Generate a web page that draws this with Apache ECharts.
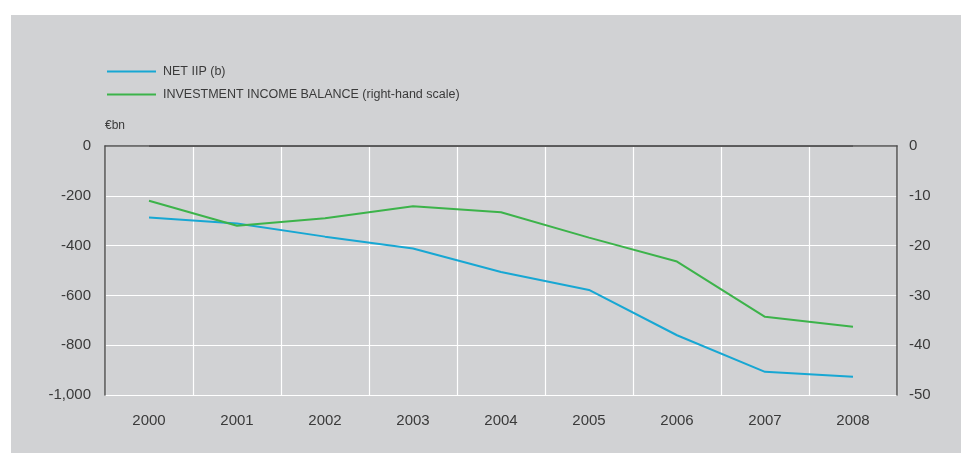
<!DOCTYPE html>
<html>
<head>
<meta charset="utf-8">
<script src="https://cdn.jsdelivr.net/npm/echarts@6/dist/echarts.min.js"></script>
<style>
html,body{margin:0;padding:0;background:#fff;}
#wrap{position:relative;width:961px;height:453px;background:#fff;}
#bg{position:absolute;left:11px;top:15px;right:0;bottom:0;background:#d1d2d4;}
#chart{position:absolute;left:0;top:0;width:961px;height:453px;}
</style>
</head>
<body>
<div id="wrap"><div id="bg"></div><div id="chart"></div></div>
<script>
const years = ['2000','2001','2002','2003','2004','2005','2006','2007','2008'];
const netIIP = [-287, -311, -364, -412, -506, -578, -760, -907, -927];
const investmentIncome = [-11.0, -16.0, -14.5, -12.1, -13.3, -18.4, -23.2, -34.3, -36.3];
const zeroLine = [0, 0, 0, 0, 0, 0, 0, 0, 0];
const seriesNames = ['NET IIP (b)', 'INVESTMENT INCOME BALANCE (right-hand scale)'];
const unitLabel = '€bn';

const FONT = '"Liberation Sans", Arial, Helvetica, sans-serif';
const chart = echarts.init(document.getElementById('chart'), null, {renderer: 'canvas'});
const axisLineStyle = {color: '#505050', width: 1.5};
chart.setOption({
  backgroundColor: 'transparent',
  animation: false,
  textStyle: {fontFamily: FONT},
  grid: {left: 105, right: 64, top: 146, bottom: 58, containLabel: false},
  legend: {
    orient: 'vertical',
    left: 102,
    top: 60,
    itemWidth: 49,
    itemHeight: 2,
    itemGap: 10,
    icon: 'rect',
    data: seriesNames,
    textStyle: {fontSize: 12.5, color: '#3a3a3a', fontFamily: FONT, padding: [0, 0, 0, 2]}
  },
  graphic: [{
    type: 'text', left: 105, top: 120,
    style: {text: unitLabel, fontSize: 12, fill: '#3a3a3a', fontFamily: FONT}
  }],
  xAxis: {
    type: 'category',
    data: years,
    boundaryGap: true,
    axisLine: {show: true, lineStyle: axisLineStyle},
    axisTick: {show: false},
    axisLabel: {fontSize: 15, color: '#3a3a3a', margin: 18, fontFamily: FONT},
    splitLine: {show: true, lineStyle: {color: '#ffffff', width: 1.2}}
  },
  yAxis: [{
    type: 'value',
    min: -1000, max: 0, interval: 200,
    axisLine: {show: true, lineStyle: axisLineStyle},
    axisTick: {show: false},
    axisLabel: {
      fontSize: 15, color: '#3a3a3a', margin: 14, fontFamily: FONT,
      formatter: v => v.toLocaleString('en-US')
    },
    splitLine: {show: true, lineStyle: {color: '#ffffff', width: 1.2}}
  }, {
    type: 'value',
    min: -50, max: 0, interval: 10,
    position: 'right',
    axisLine: {show: true, lineStyle: axisLineStyle},
    axisTick: {show: false},
    axisLabel: {fontSize: 15, color: '#3a3a3a', margin: 12, fontFamily: FONT},
    splitLine: {show: false}
  }],
  series: [{
    name: 'zero',
    type: 'line',
    data: zeroLine,
    yAxisIndex: 0,
    symbol: 'none',
    silent: true,
    lineStyle: {color: '#505050', width: 1.5},
    z: 1
  }, {
    name: seriesNames[0],
    type: 'line',
    data: netIIP,
    yAxisIndex: 0,
    symbol: 'none',
    itemStyle: {color: '#17a7d3'},
    lineStyle: {color: '#17a7d3', width: 2},
    z: 3
  }, {
    name: seriesNames[1],
    type: 'line',
    data: investmentIncome,
    yAxisIndex: 1,
    symbol: 'none',
    itemStyle: {color: '#3cb34a'},
    lineStyle: {color: '#3cb34a', width: 2},
    z: 3
  }]
});
</script>
</body>
</html>
